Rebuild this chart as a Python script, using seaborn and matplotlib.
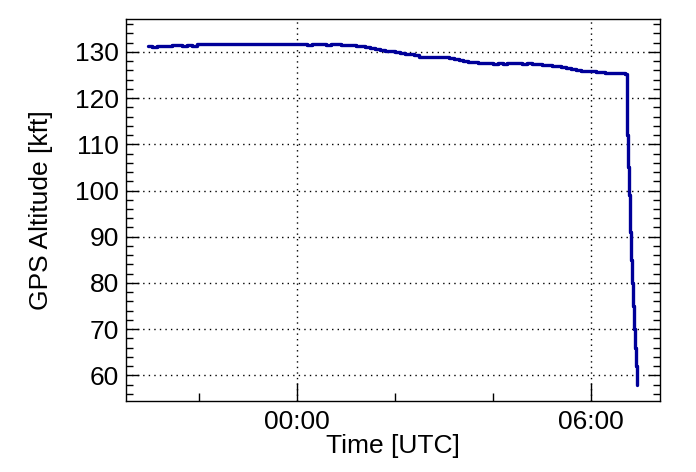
import matplotlib
matplotlib.use("Agg")
import matplotlib.pyplot as plt
from matplotlib.ticker import FixedLocator, MultipleLocator
import pandas as pd
import seaborn as sns

# time in hours relative to 00:00 UTC, altitude in kft
cruise_hours = [-3.05, -2.95, -2.85, -2.75, -2.65, -2.55, -2.45, -2.35, -2.25, -2.15,
                -2.05, -1.8, -1.5, -1.2, -0.9, -0.6, -0.45, -0.3, -0.15,
                0.0, 0.1, 0.2, 0.3, 0.4, 0.5, 0.6, 0.7, 0.8, 0.9,
                1.0, 1.1, 1.2, 1.3, 1.4, 1.5, 1.6, 1.7, 1.8, 1.9,
                2.0, 2.1, 2.2, 2.3, 2.4, 2.5, 2.6, 2.7, 2.8, 2.9,
                3.0, 3.1, 3.2, 3.3, 3.4, 3.5, 3.6, 3.7, 3.8, 3.9,
                4.0, 4.1, 4.2, 4.3, 4.4, 4.5, 4.6, 4.7, 4.8, 4.9,
                5.0, 5.1, 5.2, 5.3, 5.4, 5.5, 5.6, 5.7, 5.8, 5.9,
                6.0, 6.1, 6.2, 6.3, 6.4, 6.5, 6.6, 6.7]
cruise_alt = [131.2, 131.1, 131.3, 131.3, 131.2, 131.4, 131.5, 131.2, 131.4, 131.2,
              131.8, 131.8, 131.8, 131.8, 131.8, 131.8, 131.7, 131.8, 131.8,
              131.7, 131.8, 131.6, 131.8, 131.7, 131.8, 131.6, 131.7, 131.7, 131.6,
              131.5, 131.5, 131.3, 131.2, 131.0, 130.8, 130.6, 130.5, 130.3, 130.2,
              130.0, 129.8, 129.6, 129.5, 129.3, 129.0, 128.8, 128.9, 129.0, 129.0,
              128.9, 128.6, 128.4, 128.2, 128.0, 127.9, 127.8, 127.7, 127.6, 127.5,
              127.4, 127.6, 127.4, 127.7, 127.5, 127.6, 127.4, 127.5, 127.3, 127.4,
              127.2, 127.1, 127.0, 127.0, 126.8, 126.6, 126.4, 126.1, 125.9, 125.8,
              125.8, 125.6, 125.6, 125.5, 125.5, 125.4, 125.4, 125.2]
descent_hours = [6.72, 6.73, 6.74, 6.76, 6.78, 6.80, 6.82, 6.84, 6.86, 6.88, 6.90, 6.92, 6.94]
descent_alt = [125.3, 118.0, 112.0, 105.0, 99.0, 91.0, 85.0, 80.0, 75.0, 70.0, 66.0, 62.0, 58.0]

xtick_pos = [0, 6]
xtick_labels = ["00:00", "06:00"]

df = pd.DataFrame({"hours": cruise_hours + descent_hours,
                   "alt": cruise_alt + descent_alt})

sns.set_style("ticks")
plt.rcParams["font.family"] = ["Liberation Sans", "DejaVu Sans"]
plt.rcParams["text.color"] = "black"
plt.rcParams["axes.labelcolor"] = "black"

fig = plt.figure(figsize=(6.96, 4.72), dpi=100)
ax = fig.add_axes([0.181, 0.150, 0.767, 0.810])

sns.lineplot(data=df, x="hours", y="alt", ax=ax, color="#000099",
             linewidth=2.4, drawstyle="steps-post", sort=False)

ax.set_xlim(-3.49, 7.41)
ax.set_ylim(54.4, 137.15)

ax.xaxis.set_major_locator(FixedLocator(xtick_pos))
ax.set_xticklabels(xtick_labels)
ax.xaxis.set_minor_locator(MultipleLocator(2))
ax.yaxis.set_major_locator(MultipleLocator(10))
ax.yaxis.set_minor_locator(MultipleLocator(2))

ax.grid(True, which="major", color="black", linestyle=(0, (1, 3)), linewidth=1)
ax.tick_params(axis="both", which="both", direction="in", colors="black",
               labelsize=19, right=True, top=False)
ax.tick_params(axis="x", which="major", length=13, width=1, pad=6)
ax.tick_params(axis="x", which="minor", length=6, width=1)
ax.tick_params(axis="y", which="major", length=9, width=1, pad=5)
ax.tick_params(axis="y", which="minor", length=5, width=1)
for s in ax.spines.values():
    s.set_color("black")
    s.set_linewidth(1)

ax.set_xlabel("Time [UTC]", fontsize=19, labelpad=0)
ax.set_ylabel("GPS Altitude [kft]", fontsize=19, labelpad=16)

fig.savefig("out.png", dpi=100)
